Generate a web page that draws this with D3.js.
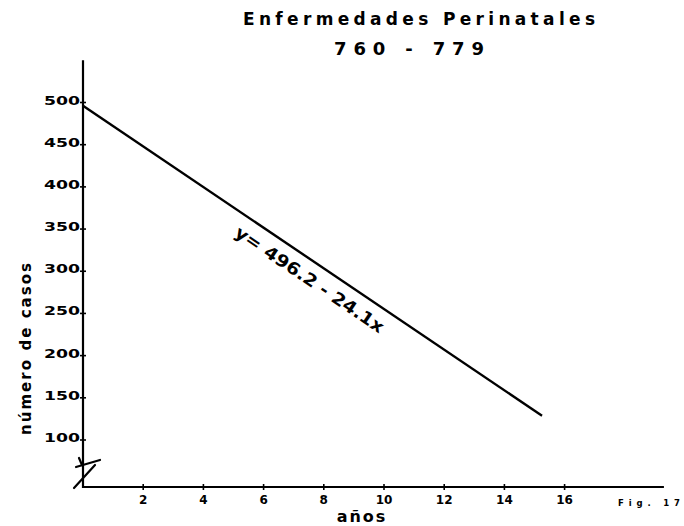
<!DOCTYPE html>
<html>
<head>
<meta charset="utf-8">
<script src="https://cdn.jsdelivr.net/npm/d3@7"></script>
<style>
  html, body { margin: 0; padding: 0; background: #fff; }
  svg { display: block; }
  text { fill: #000; }
</style>
</head>
<body>
<svg id="chart" width="684" height="526"></svg>
<script>
// Regression of perinatal disease cases (ICD 760-779) against years
const title = "Enfermedades  Perinatales";
const subtitle = "760  -  779";
const yTickValues = [100, 150, 200, 250, 300, 350, 400, 450, 500];
const yTickLabels = ["100", "150", "200", "250", "300", "350", "400", "450", "500"];
const xTickValues = [2, 4, 6, 8, 10, 12, 14, 16];
const xTickLabels = ["2", "4", "6", "8", "10", "12", "14", "16"];
const intercept = 496.2;
const slope = -24.1;
const fitRange = [0, 15.25];
const equationLabel = "y= 496.2 - 24.1x";

const svg = d3.select("#chart");

const x = d3.scaleLinear().domain([0, 16]).range([83, 564.6]);
const y = d3.scaleLinear().domain([100, 500]).range([440, 102.5]);

const x0 = x(0), yBase = 487;
const ink = "#000";

// axis lines
svg.append("line")
  .attr("x1", x0).attr("x2", x0)
  .attr("y1", y(550)).attr("y2", yBase + 1)
  .attr("stroke", ink).attr("stroke-width", 2.2);
svg.append("line")
  .attr("x1", x0).attr("x2", x(19.3))
  .attr("y1", yBase).attr("y2", yBase)
  .attr("stroke", ink).attr("stroke-width", 2);

// y ticks and labels
const yt = svg.append("g");
yt.selectAll("line").data(yTickValues).join("line")
  .attr("x1", x0 - 3).attr("x2", x0 + 3)
  .attr("y1", d => y(d)).attr("y2", d => y(d))
  .attr("stroke", ink).attr("stroke-width", 1.6);
yt.selectAll("text").data(yTickValues).join("text")
  .attr("x", x0 - 3)
  .attr("y", d => y(d) + 2)
  .attr("text-anchor", "end")
  .attr("font-family", "DejaVu Sans, sans-serif")
  .attr("font-size", 12)
  .attr("font-weight", 600)
  .attr("textLength", 36)
  .attr("lengthAdjust", "spacingAndGlyphs")
  .text((d, i) => yTickLabels[i]);

// x ticks and labels
const xt = svg.append("g");
xt.selectAll("line").data(xTickValues).join("line")
  .attr("x1", d => x(d)).attr("x2", d => x(d))
  .attr("y1", yBase - 3).attr("y2", yBase + 3)
  .attr("stroke", ink).attr("stroke-width", 1.6);
xt.selectAll("text").data(xTickValues).join("text")
  .attr("x", d => x(d))
  .attr("y", yBase + 17)
  .attr("text-anchor", "middle")
  .attr("font-family", "DejaVu Sans, sans-serif")
  .attr("font-weight", "bold")
  .attr("font-size", 12)
  .text((d, i) => xTickLabels[i]);

// axis break mark near the origin
const brk = svg.append("g").attr("stroke", ink).attr("stroke-width", 2.2).attr("fill", "none").attr("stroke-linecap", "round");
brk.append("path").attr("d", `M${x0 - 7},${yBase - 20} L${x0 + 17},${yBase - 27}`);
brk.append("path").attr("d", `M${x0 - 9},${yBase + 1} L${x0 + 12},${yBase - 22}`);
brk.append("path").attr("d", `M${x0 - 4},${yBase - 29} L${x0 - 1},${yBase - 22}`);

// fitted line
const fit = fitRange.map(v => [v, intercept + slope * v]);
svg.append("path")
  .attr("d", d3.line().x(d => x(d[0])).y(d => y(d[1]))(fit))
  .attr("fill", "none")
  .attr("stroke", ink)
  .attr("stroke-width", 2.4);

// equation written along the line
const ex = 7.85;
const angle = Math.atan2(y(intercept + slope * (ex + 1)) - y(intercept + slope * ex), x(ex + 1) - x(ex)) * 180 / Math.PI;
svg.append("text")
  .attr("transform", `translate(${x(ex)},${y(intercept + slope * ex)}) rotate(${angle})`)
  .attr("y", 23)
  .attr("text-anchor", "middle")
  .attr("font-family", "DejaVu Sans, sans-serif")
  .attr("font-weight", 600)
  .attr("font-size", 17)
  .attr("textLength", 176)
  .attr("lengthAdjust", "spacingAndGlyphs")
  .text(equationLabel);

// titles
svg.append("text")
  .attr("x", 419).attr("y", 25)
  .attr("text-anchor", "middle")
  .attr("font-family", "DejaVu Sans, sans-serif")
  .attr("font-weight", "bold")
  .attr("font-size", 17)
  .attr("textLength", 352)
  .attr("lengthAdjust", "spacing")
  .text(title);
svg.append("text")
  .attr("x", 409).attr("y", 55)
  .attr("text-anchor", "middle")
  .attr("font-family", "DejaVu Sans, sans-serif")
  .attr("font-weight", "bold")
  .attr("font-size", 18)
  .attr("textLength", 150)
  .attr("lengthAdjust", "spacing")
  .text(subtitle);

// axis titles
svg.append("text")
  .attr("x", 362).attr("y", 522)
  .attr("text-anchor", "middle")
  .attr("font-family", "DejaVu Sans, sans-serif")
  .attr("font-weight", "bold")
  .attr("font-size", 16)
  .attr("letter-spacing", 2)
  .text("años");
svg.append("text")
  .attr("transform", "translate(31,349) rotate(-90)")
  .attr("text-anchor", "middle")
  .attr("font-family", "DejaVu Sans, sans-serif")
  .attr("font-weight", "bold")
  .attr("font-size", 15)
  .attr("textLength", 172)
  .attr("lengthAdjust", "spacing")
  .text("número de casos");

// figure number
svg.append("text")
  .attr("x", 618).attr("y", 506)
  .attr("font-family", "DejaVu Sans, sans-serif")
  .attr("font-weight", "bold")
  .attr("font-size", 8.5)
  .attr("textLength", 62)
  .attr("lengthAdjust", "spacing")
  .text("Fig. 17");
</script>
</body>
</html>
